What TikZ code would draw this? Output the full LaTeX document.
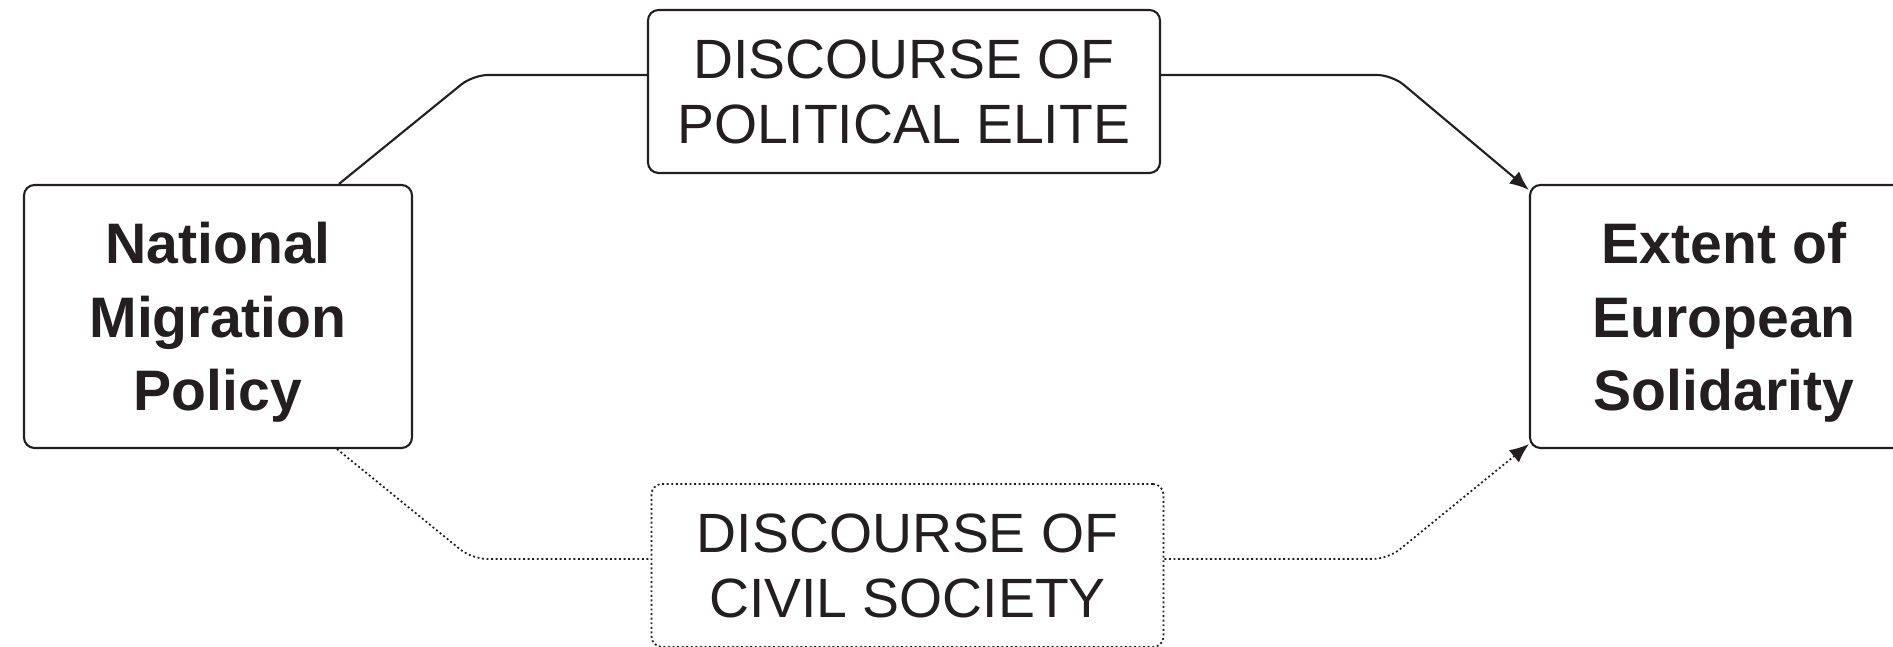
\documentclass[tikz,border=0pt]{standalone}
\usepackage{fontspec}
\setmainfont{Liberation Sans}
\usepackage{xcolor}
\usetikzlibrary{arrows.meta, positioning, calc}
\definecolor{ink}{HTML}{231F20}
\tikzset{
  factor/.style={draw=ink, text=ink, line width=1.2pt, rounded corners=6pt, align=center,
    font=\fontsize{32.5}{42}\selectfont\bfseries, text depth=0pt,
    minimum width=7.76cm, minimum height=5.26cm},
  discourse/.style={draw=ink, text=ink, line width=1.2pt, rounded corners=6pt, align=center,
    font=\fontsize{31.5}{37}\selectfont, minimum width=10.24cm, minimum height=3.26cm},
  link/.style={draw=ink, line width=1.2pt, rounded corners=0.3cm},
  tip/.style={-{Latex[length=11pt,width=9pt]}},
  fine/.style={line width=1pt, dash pattern=on 1.1pt off 1.5pt},
}

\begin{document}
\begin{tikzpicture}
    \useasboundingbox (0,0) rectangle (37.86,12.94);

    \node[factor] (npol) at (4.36,6.61) {National\\Migration\\Policy};
    \node[factor] (eeso) at (34.48,6.61) {Extent of\\European\\Solidarity};

    \node[discourse] (dpol) at (18.08,11.11) {DISCOURSE OF\\POLITICAL ELITE};
    \node[discourse,fine] (dciv) at (18.15,1.63) {DISCOURSE OF\\CIVIL SOCIETY};

    % bends of the two paths
    \coordinate (tl) at (9.46,11.44);
    \coordinate (tr) at (27.84,11.44);
    \coordinate (bl) at (9.44,1.76);
    \coordinate (br) at (27.76,1.76);

    \draw[link] ([xshift=2.42cm]npol.north) -- (tl) -- (tl -| dpol.west);
    \draw[link,tip] (tr -| dpol.east) -- (tr) -- ([yshift=-0.12cm]eeso.north west);

    \draw[link,fine] ([xshift=2.38cm]npol.south) -- (bl) -- (bl -| dciv.west);
    \draw[link,fine,tip] (br -| dciv.east) -- (br) -- ([yshift=0.1cm]eeso.south west);
  \end{tikzpicture}
\end{document}
